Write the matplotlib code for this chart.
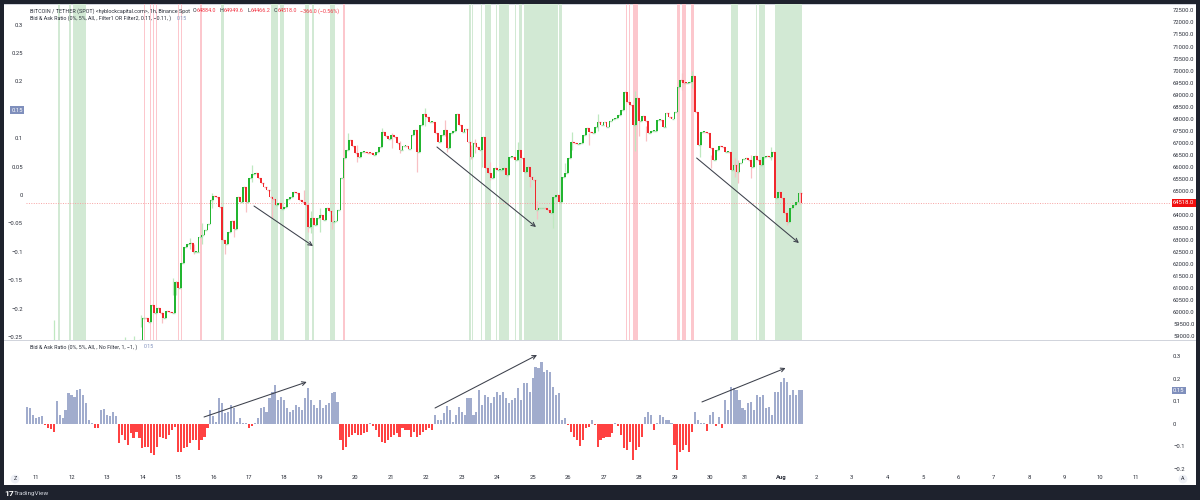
import numpy as np
import matplotlib
matplotlib.use("Agg")
import matplotlib.pyplot as plt
from matplotlib.patches import Rectangle

plt.rcParams['font.family'] = ['Roboto', 'DejaVu Sans']

# hours counted from 11 Jul 00:00, one close every 2 hours starting at hour 70
closes = [
    58840, 59740, 59740, 59600, 60290, 59970, 60150, 59950, 59740, 60060,
    60020, 59970, 61260, 60980, 62020, 62710, 62820, 62850, 62500, 62500,
    63100, 63190, 63400, 63650, 64640, 64810, 64750, 64370, 62980, 62820,
    63330, 63790, 63430, 64780, 64570, 65170, 64570, 65540, 65720, 65770,
    65540, 65330, 65190, 65060, 64780, 64670, 64430, 64500, 64250, 64370,
    64670, 64780, 64990, 64950, 64640, 64570, 64430, 63540, 63880, 63610,
    63880, 64020, 63810, 64300, 64200, 63740, 63790, 64230, 65540, 66370,
    66710,
    67130, 66880, 66580, 66410, 66640, 66640, 66600, 66580, 66510, 66620,
    66820, 67470, 67290, 67160, 67340, 67240, 66990, 66710, 66880, 66880,
    66740, 67340, 67540, 66640, 67750, 68200, 68100, 67890, 67890, 67400,
    67060, 67340, 67540, 66780, 67400, 67520, 68200, 67750, 67470, 67570,
    67060, 66440, 66990, 66850, 66710, 67240, 65950, 65750, 65540, 65950,
    65890, 65890, 65950, 65680, 66440, 66440, 66300, 66710, 66370, 65820,
    66020, 65610, 65470, 64230, 64300, 64300, 64300, 64230, 64120, 64780,
    64850, 64570, 65610, 65750, 66370,
    67060, 67020, 66960, 66990, 67340, 67610, 67470, 67430, 67680, 67890,
    67750, 67890, 67680, 67930, 67980, 68050, 68160, 68370, 69130, 68720,
    68580, 67750, 68850, 67930, 68120, 67930, 67400, 67510, 67510, 67960,
    67960, 67680, 68230, 68070, 67980, 68300, 69340, 69610, 69500, 69480,
    69550, 69780, 68300, 66920, 67470, 67470, 67400, 66780, 66300, 66710,
    66880, 66820, 66650, 66650, 65890, 66090, 65820, 66160, 66330, 66370,
    66300, 66020, 66470, 66300, 66090, 66410, 66470, 66410, 66650, 64710,
    64990, 64710, 64090, 63750, 64300, 64440, 64570, 64920, 64518,
]

# the long wicks that stand out: hour, top, bottom
wick_hours = [12, 60, 66, 71, 85, 93, 95, 104, 107, 112, 119, 128, 134, 142, 146,
              160, 181, 184, 186, 192, 200, 211, 217, 234, 241, 246, 258, 263,
              277, 278, 294, 297, 302, 307, 326, 334, 339, 350, 358, 363, 374,
              380, 405, 408, 413, 437, 444, 449, 457, 473, 475, 484, 497, 508, 517]
wick_highs = [59680, 58950, 59000, 59880, 60000, 61400, 61300, 63050, 62800, 63680,
              64920, 63000, 63800, 64700, 66090, 64800, 65060, 64500, 64200, 64300,
              64000, 67400, 66900, 67610, 67400, 67100, 66800, 68440, 67960, 67300,
              66900, 67160, 67250, 66200, 67060, 66000, 64600, 64400, 66160, 67470,
              67400, 68200, 69170, 68000, 67700, 69890, 70000, 67400, 66500, 66400,
              66300, 66500, 66820, 64200, 64950]
wick_lows = [58800, 58850, 58850, 59400, 59530, 60700, 60710, 62600, 62400, 62800,
             64300, 62400, 63100, 64160, 65400, 63880, 64500, 63330, 63260, 63330,
             63430, 66700, 66230, 66900, 66800, 66600, 65820, 67700, 67300, 66640,
             66330, 66600, 66020, 65470, 66300, 65170, 63840, 63470, 65800, 66700,
             66920, 67500, 66690, 67290, 67100, 69200, 69300, 66440, 65950, 65610,
             65330, 65540, 66300, 63610, 64466]

# highlighted background ranges, in hours
green_starts = [15, 22, 25, 125, 159, 165, 182, 187, 199, 293, 295, 301, 304, 311,
                313, 324, 327, 330, 354, 470, 487, 489, 500]
green_ends = [16, 24, 34, 127, 164, 168, 185, 188, 202, 294, 296, 302, 308, 312,
              320, 325, 329, 353, 356, 475, 488, 493, 518]
red_starts = [73, 77, 79, 81, 96, 98, 111, 208, 399, 401, 404, 434, 437, 443]
red_ends = [74, 78, 80, 82, 97, 99, 112, 209, 400, 402, 407, 436, 440, 445]

# bid & ask ratio, one bar every 2 hours starting at hour -6
ratio = [
    .073, .068, .039, .024, .031, .035, -.006, -.021, -.025, -.036, .10, .04, .024,
    .061, .135, .128, .12, .15, .153, .128, .091, .016, .002, -.021, -.021, .061,
    .064, .039, .034, .053, .034, -.088, -.05, -.073, -.095, -.043, -.065, -.036,
    -.065, -.11, -.103, -.103, -.132, -.14, -.103, -.058, -.065, -.07, -.05, -.028,
    -.013, -.125, -.125, -.11, -.103, -.088, -.073, -.073, -.117, -.073, -.058,
    -.021, .061, .034, .009, .113, .091, .046, .053, .083, .068, .009, .024, .004,
    .002, -.021, -.01, .002, .024, .068, .076, .053, .113, .143, .172, .105, .12, .105,
    .068, .053, .061, .083, .076, .061, .113, .157, .105, .083, .068, .105, .068,
    .083, .091, .135, .143, .098, -.073, -.117, -.103, -.058, -.05, -.043, -.05,
    -.05, -.043, -.036, .002, -.01, -.028, -.058, -.08, -.088, -.073, -.058, -.05, -.043,
    -.058,
    -.021, -.028, -.028, -.058, -.036, -.058, -.05, -.036, -.028, -.021, -.028, .039,
    .016, .016, .046, .08, .061, .009, .039, .076, .053, .039, .113, .113, .039, .053,
    .15, .083, .128, .12, .091, .12, .143, .128, .143, .113, .091, .105, .113, .157,
    .105, .18, .18, .143, .202, .254, .247, .276, .232, .239, .232, .165, .128, .135,
    .016, .024, -.006, -.036, -.058, -.073, -.1, -.073, -.021, -.013, .016, -.006,
    -.103, -.073, -.065, -.058, -.058, -.043, .004, -.01, -.05, -.11, -.117, -.08,
    -.162, -.117, -.103, -.058, .031, .053, .039, -.028, .002, .039, .028, .016, .016,
    .002, -.095, -.207, -.125, -.117, -.095, -.125, -.036, .053, .016, .002, .004,
    -.031, .039, .053, -.01, .031, -.021, .105, .061, .165, .157, .15, .105, .068,
    .061, .091, .098, .061, .128, .12, .128, .068, .076, .039, .143, .143, .187, .202,
    .187, .128, .15, .128, .15, .15,
]

price_ticks = np.arange(59000, 72501, 500)
ratio_ticks = [0.3, 0.25, 0.2, 0.15, 0.1, 0.05, 0, -0.05, -0.1, -0.15, -0.2, -0.25]
ratio_tick_labels = ['0.3', '0.25', '0.2', '0.15', '0.1', '0.05', '0', '−0.05', '−0.1',
                     '−0.15', '−0.2', '−0.25']
lower_ticks = [0.3, 0.2, 0.15, 0.1, 0, -0.1, -0.2]
lower_tick_labels = ['0.3', '0.2', '0.15', '0.1', '0', '−0.1', '−0.2']
day_labels = ['11', '12', '13', '14', '15', '16', '17', '18', '19', '20', '21', '22', '23',
              '24', '25', '26', '27', '28', '29', '30', '31', 'Aug', '2', '3', '4', '5',
              '6', '7', '8', '9', '10', '11']

last_price = 64518
# arrows: start hour, end hour, start value, end value
main_arrows = [(147.5, 187.4, 64393, 62736), (271.3, 338.3, 66838, 63523), (447, 516.2, 66382, 62860)]
lower_arrows = [(113.7, 183.2, 0.03, 0.186), (270, 339, 0.07, 0.306), (450.6, 507.2, 0.097, 0.248)]

W, H = 1200, 500
BLUE = '#7f8fbc'
RED = '#f23645'
TXT = '#2a2e39'
FS = 3.9
TICK_FS = 4.2


def rect(x0, y0, x1, y1):
    # pixel box, y measured from the top
    return [x0 / W, 1 - y1 / H, (x1 - x0) / W, (y1 - y0) / H]


fig = plt.figure(figsize=(12, 5), dpi=100, facecolor='#1e222d')
fig.patches.append(Rectangle((4 / W, 1 - 485 / H), 1192 / W, 481 / H, transform=fig.transFigure,
                             facecolor='white', edgecolor='none', zorder=-5))
fig.patches.append(Rectangle((4 / W, 1 - 5 / H), 1192 / W, 1 / H, transform=fig.transFigure,
                             facecolor='#d1d4dc', edgecolor='none', zorder=-4))
fig.patches.append(Rectangle((4 / W, 1 - 341 / H), 1192 / W, 1.2 / H, transform=fig.transFigure,
                             facecolor='#d1d4dc', edgecolor='none', zorder=-4))

ax = fig.add_axes(rect(26, 4, 1170, 340))
ax.patch.set_alpha(0)
low = fig.add_axes(rect(26, 342, 1170, 472), sharex=ax)
low.patch.set_alpha(0)

ax.set_xlim(-6.77, 767.3)
ax.set_ylim(58842, 72762)
low.set_ylim(-0.215, 0.364)

for s, e in zip(green_starts, green_ends):
    ax.axvspan(s, e, color='#d2e9d4', lw=0, zorder=1)
for s, e in zip(red_starts, red_ends):
    ax.axvspan(s, e, color='#fcc7cd', lw=0, zorder=1)

ax.axhline(last_price, color='#f7a3a3', lw=0.7, ls=(0, (1, 1.5)), zorder=2)

# candles
closes = np.array(closes, dtype=float)
hours = 70 + 2 * np.arange(len(closes))
opens = np.r_[closes[0] - 100, closes[:-1]]
up = closes >= opens
for h, t, b in zip(wick_hours, wick_highs, wick_lows):
    i = int(np.clip(round((h - 70) / 2), 0, len(closes) - 1))
    ax.vlines(h, b, t, color='#bfe8c0' if up[i] else '#f8c0c4', lw=0.9, zorder=3)
for i in range(len(closes)):
    c = '#22b530' if up[i] else '#f0282d'
    bottom = min(opens[i], closes[i])
    height = max(abs(closes[i] - opens[i]), 30)
    # pale link back to the previous close so the 2h steps read as one run
    ax.hlines(opens[i], hours[i] - 2, hours[i], color='#a9dcae' if up[i] else '#f5a9ae', lw=1.0, zorder=3.5)
    ax.bar(hours[i], height, width=1.2, bottom=bottom, color=c, lw=0, zorder=4)

for x0, x1, y0, y1 in main_arrows:
    ax.annotate('', xy=(x1, y1), xytext=(x0, y0), zorder=6,
                arrowprops=dict(arrowstyle='->', color='#3c404b', lw=0.75, shrinkA=0, shrinkB=0,
                                mutation_scale=7))

# histogram
ratio = np.array(ratio)
ratio_hours = -6 + 2 * np.arange(len(ratio))
low.bar(ratio_hours, ratio, width=1.45, color=np.where(ratio >= 0, '#a1accd', '#ff4242'), lw=0)
for x0, x1, y0, y1 in lower_arrows:
    low.annotate('', xy=(x1, y1), xytext=(x0, y0), zorder=6,
                 arrowprops=dict(arrowstyle='->', color='#3c404b', lw=0.75, shrinkA=0, shrinkB=0,
                                 mutation_scale=7))

# axes: price on the right, ratio on the left
left = ax.twinx()
left.set_ylim(-0.2553, 0.3363)
left.yaxis.tick_left()
left.set_yticks(ratio_ticks)
left.set_yticklabels(ratio_tick_labels)
left.tick_params(axis='y', length=0, pad=2.4, labelsize=TICK_FS, labelcolor=TXT)
left.patch.set_alpha(0)
for lab in left.get_yticklabels():
    if lab.get_text() == '0.15':
        lab.set_color('white')
        lab.set_bbox(dict(facecolor=BLUE, edgecolor='none', pad=1))

for a in (ax, low, left):
    for sp in a.spines.values():
        sp.set_visible(False)
ax.tick_params(axis='x', length=0, labelbottom=False)
ax.yaxis.tick_right()
ax.set_yticks(price_ticks)
ax.set_yticklabels(['%.1f' % p for p in price_ticks])
ax.tick_params(axis='y', length=0, pad=2.2, labelsize=TICK_FS, labelcolor=TXT)

low.yaxis.tick_right()
low.set_yticks(lower_ticks)
low.set_yticklabels(lower_tick_labels)
low.tick_params(axis='y', length=0, pad=2.2, labelsize=TICK_FS, labelcolor=TXT)
for lab in low.get_yticklabels():
    if lab.get_text() == '0.15':
        lab.set_color('white')
        lab.set_bbox(dict(facecolor=BLUE, edgecolor='none', pad=1))

low.set_xticks(24 * np.arange(len(day_labels)))
low.set_xticklabels(day_labels)
low.tick_params(axis='x', length=0, pad=2.5, labelsize=TICK_FS, labelcolor=TXT)
for lab in low.get_xticklabels():
    if lab.get_text() == 'Aug':
        lab.set_fontweight('bold')

ax.text(1.0026, last_price, '%.1f' % last_price, transform=ax.get_yaxis_transform(), color='white',
        fontsize=TICK_FS, va='center', ha='left', zorder=8,
        bbox=dict(facecolor='#f00f0f', edgecolor='none', pad=1))


def label(x, y, s, color=TXT, **kw):
    fig.text(x / W, 1 - y / H, s, color=color, fontsize=FS, va='center', ha='left', **kw)


label(30, 11, 'BITCOIN / TETHER (SPOT) <hyblockcapital.com>, 1h, Binance Spot')
for x, head, val in [(193, 'O', '64884.0'), (220, 'H', '64949.6'), (247, 'L', '64466.2'), (274, 'C', '64518.0')]:
    label(x, 11, head)
    label(x + 4, 11, val, color=RED)
label(300, 11, '−366.0 (−0.56%)', color=RED)
label(30, 18.5, 'Bid & Ask Ratio (0%, 5%, All, , Filter1 OR Filter2, 0.11, −0.11, )')
label(177, 18.5, '0.15', color=BLUE)
label(30, 347, 'Bid & Ask Ratio (0%, 5%, All, , No Filter, 1, −1, )')
label(144, 347, '0.15', color=BLUE)

# little scale buttons and the watermark strip
fig.text(15 / W, 1 - 479 / H, 'Z', color=TXT, fontsize=FS, va='center', ha='center',
         bbox=dict(boxstyle='circle,pad=0.35', facecolor='#eef0f6', edgecolor='none'))
fig.text(1183 / W, 1 - 479 / H, 'A', color=TXT, fontsize=FS, va='center', ha='center',
         bbox=dict(boxstyle='circle,pad=0.35', facecolor='#eef0f6', edgecolor='none'))
fig.text(4.5 / W, 1 - 493 / H, '17', color='white', fontsize=6, fontweight='bold', va='center', ha='left')
fig.text(14 / W, 1 - 493 / H, 'TradingView', color='#d1d4dc', fontsize=4.6, va='center', ha='left')

fig.savefig('out.png', dpi=100, facecolor=fig.get_facecolor())
